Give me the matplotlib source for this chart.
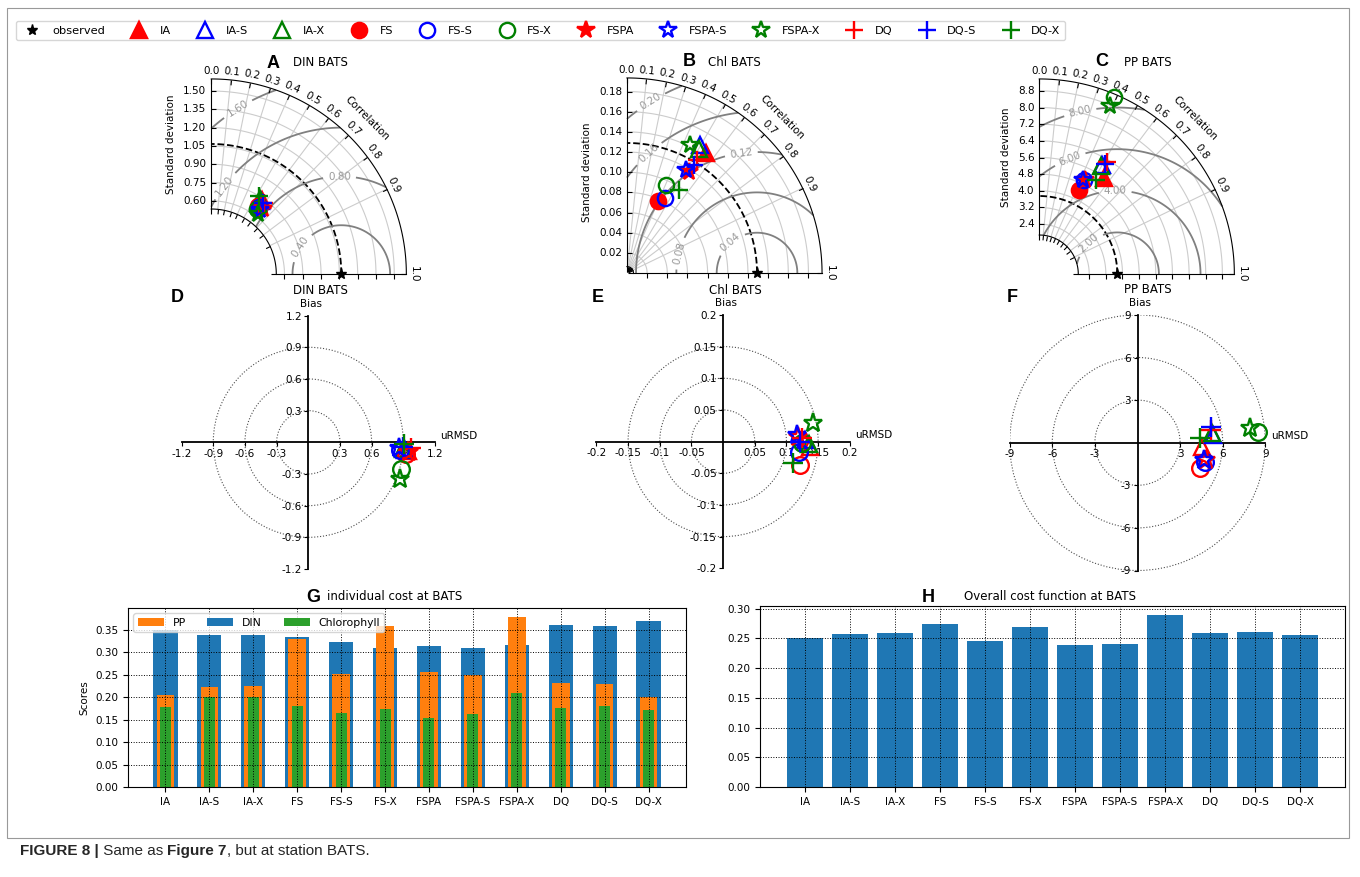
import numpy as np
import matplotlib
matplotlib.use("Agg")
import matplotlib.pyplot as plt
from matplotlib.lines import Line2D
from matplotlib.patches import Circle, Rectangle
from matplotlib.projections import PolarAxes
import mpl_toolkits.axisartist.floating_axes as FA
import mpl_toolkits.axisartist.grid_finder as GF

plt.rcParams['font.family'] = 'DejaVu Sans'
plt.rcParams['font.size'] = 7.5
plt.rcParams['xtick.labelsize'] = 7.5
plt.rcParams['ytick.labelsize'] = 7.5
plt.rcParams['axes.labelsize'] = 7.5
plt.rcParams['axes.unicode_minus'] = False

# ---------------------------------------------------------------------------
# data
# ---------------------------------------------------------------------------
models = ['IA', 'IA-S', 'IA-X', 'FS', 'FS-S', 'FS-X',
          'FSPA', 'FSPA-S', 'FSPA-X', 'DQ', 'DQ-S', 'DQ-X']

# Taylor diagrams: reference std, model std and correlation
din_ref = 1.066
din_std = [0.734, 0.723, 0.735, 0.675, 0.675, 0.653, 0.682, 0.660, 0.621, 0.728, 0.716, 0.754]
din_cor = [0.566, 0.564, 0.544, 0.565, 0.576, 0.571, 0.618, 0.605, 0.614, 0.596, 0.588, 0.523]

chl_ref = 0.129
chl_std = [0.1429, 0.1458, 0.1426, 0.0778, 0.0835, 0.0959, 0.1180, 0.1177, 0.1412, 0.1320, 0.1260, 0.0977]
chl_cor = [0.552, 0.496, 0.500, 0.397, 0.447, 0.406, 0.523, 0.496, 0.443, 0.529, 0.528, 0.531]

pp_ref = 3.75
pp_std = [5.55, 6.04, 5.96, 4.48, 5.01, 9.24, 5.05, 5.00, 8.79, 6.29, 6.15, 5.27]
pp_cor = [0.560, 0.500, 0.495, 0.430, 0.430, 0.387, 0.440, 0.420, 0.389, 0.520, 0.510, 0.515]

# target diagrams: unbiased RMSD and bias
din_urmsd = [0.94, 0.92, 0.90, 0.93, 0.87, 0.88, 0.95, 0.86, 0.87, 0.97, 0.90, 0.91]
din_bias = [-0.08, -0.07, -0.06, -0.11, -0.07, -0.25, -0.09, -0.05, -0.35, -0.05, -0.04, -0.02]

chl_urmsd = [0.137, 0.130, 0.135, 0.1216, 0.1205, 0.124, 0.119, 0.117, 0.142, 0.125, 0.121, 0.111]
chl_bias = [-0.008, 0.003, -0.004, -0.037, -0.017, -0.002, 0.008, 0.011, 0.029, 0.005, 0.0, -0.034]

pp_urmsd = [4.52, 5.35, 5.22, 4.40, 4.75, 8.50, 4.80, 4.70, 7.92, 5.20, 5.15, 4.40]
pp_bias = [-0.28, 0.55, 0.66, -1.80, -1.34, 0.77, -1.25, -1.20, 1.01, 0.90, 1.13, 0.31]

# cost functions
cost_pp = [0.205, 0.222, 0.225, 0.330, 0.252, 0.358, 0.255, 0.249, 0.379, 0.232, 0.230, 0.200]
cost_din = [0.348, 0.339, 0.339, 0.333, 0.323, 0.308, 0.314, 0.310, 0.316, 0.360, 0.357, 0.369]
cost_chl = [0.177, 0.200, 0.200, 0.179, 0.164, 0.173, 0.154, 0.163, 0.209, 0.175, 0.181, 0.172]
cost_total = [0.251, 0.258, 0.259, 0.274, 0.246, 0.270, 0.239, 0.240, 0.290, 0.259, 0.261, 0.255]

# marker style per model
mcolors = ['red', 'blue', 'green'] * 4
mshapes = ['^'] * 3 + ['o'] * 3 + ['*'] * 3 + ['+'] * 3
mfilled = [True, False, False] * 4

W, H = 1360, 877
fig = plt.figure(figsize=(W / 100, H / 100), dpi=100)


def px_rect(x0, y_bottom, w, h):
    return [x0 / W, 1 - y_bottom / H, w / W, h / H]


def marker_kw(i, ms=11):
    kw = dict(marker=mshapes[i], ls='', mec=mcolors[i], mew=1.7,
              mfc=mcolors[i] if mfilled[i] else 'none', ms=ms)
    if mshapes[i] in ('*', '+'):
        kw['ms'] = ms + 2
    return kw


# ---------------------------------------------------------------------------
# Taylor diagram
# ---------------------------------------------------------------------------
def taylor(rect, refstd, srange, std_ticks, std_fmt, levels, label_pos, stds, cors):
    tr = PolarAxes.PolarTransform(apply_theta_transforms=False)
    rlocs = np.round(np.arange(0, 1.01, 0.1), 1)
    tlocs = np.arccos(rlocs)
    gl1 = GF.FixedLocator(tlocs)
    tf1 = GF.DictFormatter(dict(zip(tlocs, ['%.1f' % r for r in rlocs])))
    gl2 = GF.FixedLocator(std_ticks)
    tf2 = GF.DictFormatter(dict(zip(std_ticks, [std_fmt % s for s in std_ticks])))

    smin, smax = srange[0] * refstd, srange[1] * refstd
    gh = FA.GridHelperCurveLinear(tr, extremes=(0, np.pi / 2, smin, smax),
                                  grid_locator1=gl1, tick_formatter1=tf1,
                                  grid_locator2=gl2, tick_formatter2=tf2)
    ax = FA.FloatingAxes(fig, rect, grid_helper=gh)
    fig.add_axes(ax)

    ax.axis['top'].set_axis_direction('bottom')
    ax.axis['top'].toggle(ticklabels=True, label=True)
    ax.axis['top'].major_ticklabels.set_axis_direction('top')
    ax.axis['top'].label.set_axis_direction('top')
    ax.axis['top'].label.set_text('Correlation')

    ax.axis['left'].toggle(ticklabels=False, label=False)

    ax.axis['right'].set_axis_direction('left')
    ax.axis['right'].toggle(ticklabels=True, label=True)
    ax.axis['right'].label.set_text('Standard deviation')

    ax.axis['bottom'].toggle(ticklabels=False, label=False)
    ax.grid(True, color='0.8', lw=0.8)

    aux = ax.get_aux_axes(tr)
    aux.plot([0], [refstd], 'k*', ms=8, clip_on=False, zorder=5)
    t = np.linspace(0, np.pi / 2, 100)
    aux.plot(t, np.full_like(t, refstd), 'k--', lw=1.3)

    rs, ts = np.meshgrid(np.linspace(smin, smax, 120), np.linspace(0, np.pi / 2, 120))
    rms = np.sqrt(refstd ** 2 + rs ** 2 - 2 * refstd * rs * np.cos(ts))
    cs = aux.contour(ts, rs, rms, levels, colors='0.5', linewidths=1.3)
    aux.clabel(cs, inline=True, fmt='%.2f', fontsize=7.5, colors='0.6',
               manual=[(np.radians(a), r) for a, r in label_pos])

    for i in range(len(models)):
        aux.plot(np.arccos(cors[i]), stds[i], clip_on=False, zorder=6, **marker_kw(i))
    return ax


taylor(px_rect(209.3, 276, 199, 199), din_ref, (0.5, 1.5),
       [0.60, 0.75, 0.90, 1.05, 1.20, 1.35, 1.50], '%.2f',
       [0.4, 0.8, 1.2, 1.6],
       [(81.5, 1.39), (82.3, 0.739), (37.7, 1.328), (17.0, 0.762)],
       din_std, din_cor)
taylor(px_rect(625, 275, 199, 199), chl_ref, (0.05, 1.5),
       [0.02, 0.04, 0.06, 0.08, 0.10, 0.12, 0.14, 0.16, 0.18], '%.2f',
       [0.04, 0.08, 0.12, 0.16, 0.20],
       [(81.8, 0.1705), (79.6, 0.1205), (46.0, 0.1634), (20.6, 0.0555), (16.8, 0.1068)],
       chl_std, chl_cor)
taylor(px_rect(1037.3, 276, 199, 199), pp_ref, (0.5, 2.5),
       [2.4, 3.2, 4.0, 4.8, 5.6, 6.4, 7.2, 8.0, 8.8], '%.1f',
       [2, 4, 6, 8],
       [(75.9, 8.05), (75.3, 5.76), (48.0, 5.45), (31.3, 2.81)],
       pp_std, pp_cor)


# ---------------------------------------------------------------------------
# target diagram (uRMSD vs bias)
# ---------------------------------------------------------------------------
def target(rect, lim, ticks, ticklabels, rings, xs, ys):
    ax = fig.add_axes(rect)
    ax.set_xlim(-lim, lim)
    ax.set_ylim(-lim, lim)
    ax.set_aspect('equal')
    for s in ('left', 'bottom'):
        ax.spines[s].set_position('zero')
        ax.spines[s].set_linewidth(1.3)
    for s in ('right', 'top'):
        ax.spines[s].set_visible(False)
    ax.set_xticks(ticks)
    ax.set_xticklabels(ticklabels)
    ax.set_yticks(ticks)
    ax.set_yticklabels(ticklabels)
    ax.tick_params(length=3, pad=1.5)
    for r in rings:
        ax.add_patch(Circle((0, 0), r, fill=False, ls=':', ec='0.3', lw=0.8))
    ax.annotate('uRMSD', (lim, 0), xytext=(4, 1), textcoords='offset points',
                ha='left', va='bottom', annotation_clip=False)
    ax.annotate('Bias', (0, lim), xytext=(2, 5), textcoords='offset points',
                ha='center', va='bottom', annotation_clip=False)
    for i in range(len(models)):
        kw = marker_kw(i, ms=12)
        kw['mfc'] = 'none'
        ax.plot(xs[i], ys[i], clip_on=False, zorder=5, **kw)
    return ax


def lab(vals):
    return [('%g' % v) for v in vals]


t_din = [-1.2, -0.9, -0.6, -0.3, 0.3, 0.6, 0.9, 1.2]
t_chl = [-0.2, -0.15, -0.1, -0.05, 0.05, 0.1, 0.15, 0.2]
t_pp = [-9, -6, -3, 3, 6, 9]
target(px_rect(181.6, 569, 253.4, 253.4), 1.2, t_din, lab(t_din), [0.3, 0.6, 0.9],
       din_urmsd, din_bias)
target(px_rect(596.4, 568.3, 253.4, 253.4), 0.2, t_chl, lab(t_chl), [0.05, 0.1, 0.15],
       chl_urmsd, chl_bias)
target(px_rect(1009.7, 570.5, 255.6, 255.6), 9, t_pp, lab(t_pp), [3, 6, 9],
       pp_urmsd, pp_bias)

# ---------------------------------------------------------------------------
# cost bar charts
# ---------------------------------------------------------------------------
x = np.arange(len(models))
axg = fig.add_axes(px_rect(128, 787, 558, 179))
axg.bar(x, cost_pp, 0.4, color='tab:orange', label='PP', zorder=1.5)
axg.bar(x, cost_din, 0.55, color='tab:blue', label='DIN', zorder=1)
axg.bar(x, cost_chl, 0.25, color='tab:green', label='Chlorophyll', zorder=2)
axg.set_axisbelow(False)
axg.grid(True, ls=':', color='k', lw=0.7)
axg.set_xticks(x)
axg.set_xticklabels(models)
axg.set_yticks(np.arange(0, 0.36, 0.05))
axg.set_ylabel('Scores')
axg.legend(loc='upper left', ncol=3, fontsize=7.8, handlelength=2.4)

axh = fig.add_axes(px_rect(760, 787, 585, 181))
axh.bar(x, cost_total, 0.8, color='tab:blue', zorder=1)
axh.set_axisbelow(False)
axh.grid(True, ls=':', color='k', lw=0.7)
axh.set_xticks(x)
axh.set_xticklabels(models)
axh.set_yticks(np.arange(0, 0.31, 0.05))

# ---------------------------------------------------------------------------
# titles, panel letters, legend, caption
# ---------------------------------------------------------------------------
def ftext(xp, yp, s, **kw):
    fig.text(xp / W, 1 - yp / H, s, ha='center', va='center', **kw)


for xp, yp, s in [(320, 63, 'DIN BATS'), (734, 62, 'Chl BATS'), (1148, 62, 'PP BATS'),
                  (320, 290, 'DIN BATS'), (735, 290, 'Chl BATS'), (1148, 289, 'PP BATS')]:
    ftext(xp, yp, s, fontsize=8.5)
ftext(395, 597, 'individual cost at BATS', fontsize=8.5)
ftext(1050, 597, 'Overall cost function at BATS', fontsize=8.5)

for xp, yp, s in [(273, 63, 'A'), (689, 62, 'B'), (1102, 62, 'C'),
                  (177, 297, 'D'), (598, 297, 'E'), (1012, 298, 'F'),
                  (313, 597, 'G'), (928, 597, 'H')]:
    ftext(xp, yp, s, fontsize=13, fontweight='bold', family='Liberation Sans')

handles = [Line2D([], [], marker='*', color='k', ls='', ms=8)]
handles += [Line2D([], [], **marker_kw(i)) for i in range(len(models))]
fig.legend(handles, ['observed'] + models, ncol=13, loc='upper left',
           bbox_to_anchor=(16 / W, 1 - 21 / H), fontsize=8.2, numpoints=1,
           borderaxespad=0)

fig.add_artist(Rectangle((7 / W, 1 - 838 / H), (1349 - 7) / W, (838 - 8) / H,
                         transform=fig.transFigure, fill=False, ec='0.6', lw=0.8))

renderer = fig.canvas.get_renderer()
xc = 20 / W
for s, wt in [('FIGURE 8 |', 'bold'), (' Same as ', 'normal'),
              ('Figure 7', 'bold'), (', but at station BATS.', 'normal')]:
    t = fig.text(xc, 1 - 851 / H, s, ha='left', va='center', fontsize=11,
                 fontweight=wt, family='Liberation Sans', color='0.15')
    xc += t.get_window_extent(renderer=renderer).width / W

fig.savefig('out.png', dpi=100)
